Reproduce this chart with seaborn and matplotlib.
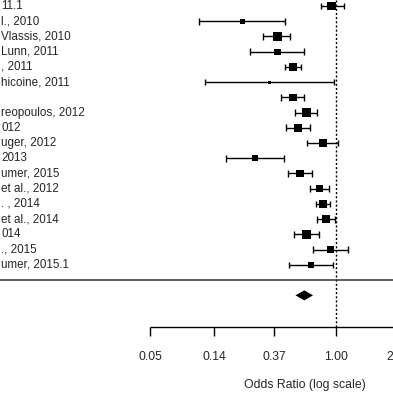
import numpy as np
import pandas as pd
import matplotlib
matplotlib.use('Agg')
import matplotlib.pyplot as plt
import matplotlib.transforms as mtransforms
import seaborn as sns

# study labels as they show in the (cropped) chart, top to bottom
labels = ['11.1', 'l., 2010', 'Vlassis, 2010', 'Lunn, 2011', ', 2011', 'hicoine, 2011',
          '', 'reopoulos, 2012', '012', 'uger, 2012', '2013', 'umer, 2015',
          'et al., 2012', '. , 2014', 'et al., 2014', '014', '., 2015', 'umer, 2015.1']
odds = [0.93, 0.22, 0.39, 0.39, 0.50, 0.34, 0.50, 0.62, 0.54, 0.81, 0.27, 0.56,
        0.77, 0.81, 0.85, 0.62, 0.91, 0.67]
ci_low = [0.79, 0.11, 0.31, 0.25, 0.44, 0.12, 0.41, 0.52, 0.45, 0.63, 0.17, 0.46,
          0.66, 0.73, 0.74, 0.51, 0.69, 0.47]
ci_high = [1.13, 0.44, 0.48, 0.60, 0.57, 0.97, 0.60, 0.74, 0.66, 1.04, 0.43, 0.68,
           0.90, 0.91, 0.98, 0.76, 1.22, 0.95]
weights = [8, 5, 8, 6, 8, 3, 7, 8, 8, 7, 6, 7, 7, 8, 8, 8, 7, 6]

summary_or = 0.60
summary_low = 0.52
summary_high = 0.69

tick_values = [0.05, 0.14, 0.37, 1.00, 2.72]
tick_labels = ['0.05', '0.14', '0.37', '1.00', '2.72']

n = len(labels)
df = pd.DataFrame({'label': labels, 'odds': odds, 'lo': ci_low, 'hi': ci_high,
                   'w': weights})
df['row'] = np.arange(n, 0, -1)

sns.set_style('white')
plt.rcParams['font.family'] = ['Liberation Sans', 'DejaVu Sans']

fig = plt.figure(figsize=(3.93, 3.93), dpi=100)
ax = fig.add_axes([0, 0, 1, 1])
ax.set_xscale('log')
ax.set_xlim(np.exp(-336 / 62), np.exp(57 / 62))
ax.set_ylim(-7.41, 18.39)
ax.axis('off')

# confidence intervals with end caps
ax.hlines(df['row'], df['lo'], df['hi'], color='black', lw=1)
ax.vlines(df['lo'], df['row'] - 0.22, df['row'] + 0.22, color='black', lw=1)
ax.vlines(df['hi'], df['row'] - 0.22, df['row'] + 0.22, color='black', lw=1)

# squares sized by weight
sns.scatterplot(x='odds', y='row', data=df, marker='s', color='black',
                s=(df['w'] * 0.75) ** 2, linewidth=0, ax=ax, legend=False, zorder=3)

trans = mtransforms.blended_transform_factory(ax.transAxes, ax.transData)
for lab, r in zip(df['label'], df['row']):
    ax.text(1 / 393, r, lab, transform=trans, ha='left', va='center', fontsize=8.4)

# reference line at OR = 1
ax.vlines(1, -3.08, 18.39, color='black', lw=1, linestyles=(0, (1.5, 1.5)))

# separator line
ax.axhline(0, color='#333333', lw=1.1)

# pooled estimate diamond
ax.fill([summary_low, summary_or, summary_high, summary_or],
        [-1, -1 + 0.33, -1, -1 - 0.33], color='black', lw=0)

# x axis
ax.hlines(-3.08, tick_values[0], tick_values[-1], color='black', lw=1)
ax.vlines(tick_values, -3.67, -3.08, color='black', lw=1)
for v, t in zip(tick_values, tick_labels):
    ax.text(v, -5.05, t, ha='center', va='center', fontsize=8.8)
ax.text(np.exp(-0.5), -6.89, 'Odds Ratio (log scale)', ha='center', va='center',
        fontsize=8.8)

fig.savefig('out.png', dpi=100)
